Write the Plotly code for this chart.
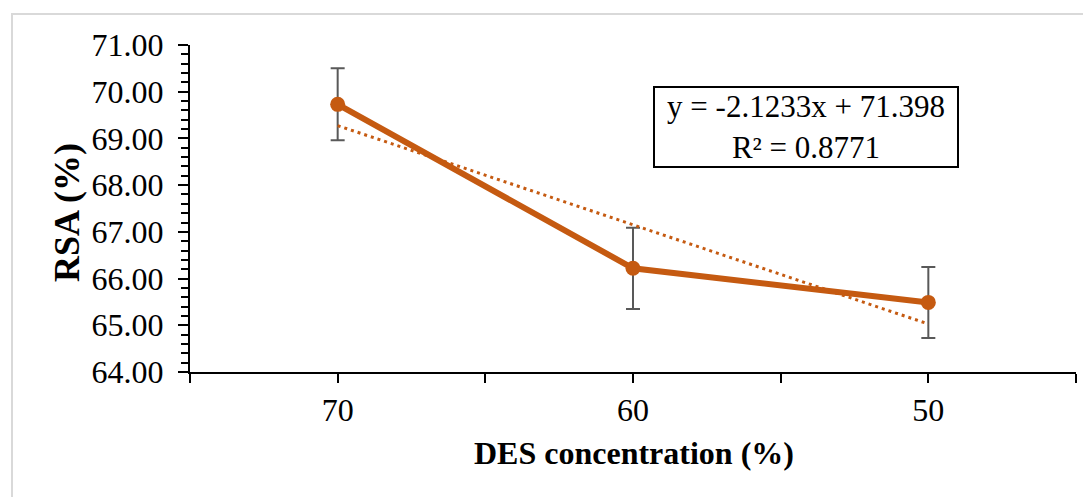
import plotly.graph_objects as go

categories = ["70", "60", "50"]
rsa = [69.73, 66.22, 65.49]
rsa_err = [0.77, 0.87, 0.76]
trend_slope = -2.1233
trend_intercept = 71.398
r_squared = 0.8771
y_ticks = [64, 65, 66, 67, 68, 69, 70, 71]

pos = list(range(1, len(categories) + 1))
trend_y = [trend_slope * p + trend_intercept for p in pos]

ORANGE = "#C55A11"
FONT = "Liberation Serif, Times New Roman, serif"

fig = go.Figure()
fig.add_trace(go.Scatter(
    x=pos, y=rsa, mode="lines+markers",
    line=dict(color=ORANGE, width=6),
    marker=dict(color=ORANGE, size=15),
    error_y=dict(type="data", array=rsa_err, visible=True,
                 color="#595959", thickness=2, width=7),
    showlegend=False,
))
fig.add_trace(go.Scatter(
    x=pos, y=trend_y, mode="lines",
    line=dict(color=ORANGE, width=3, dash="3px,4px"),
    showlegend=False,
))

tickvals = [0.5]
ticktext = [""]
for p, c in zip(pos, categories):
    tickvals += [p, p + 0.5]
    ticktext += [c, ""]

fig.update_layout(
    width=1091, height=497, autosize=False,
    margin=dict(l=182, r=23, t=37, b=133),
    plot_bgcolor="white", paper_bgcolor="white",
    font=dict(family=FONT, color="black", size=32),
    xaxis=dict(
        range=[0.5, len(categories) + 0.5], tickvals=tickvals, ticktext=ticktext,
        showline=True, linecolor="black", linewidth=2,
        ticks="outside", ticklen=9, tickwidth=2, tickcolor="black",
        showgrid=False, zeroline=False, ticklabelstandoff=0,
        tickfont=dict(size=32, family=FONT),
    ),
    yaxis=dict(
        range=[64, 71], tickvals=y_ticks, tickformat=".2f",
        showline=True, linecolor="black", linewidth=2,
        ticks="outside", ticklen=10, tickwidth=2, tickcolor="black",
        minor=dict(dtick=0.2, ticks="outside", ticklen=7, tickwidth=2, tickcolor="black", showgrid=False),
        showgrid=False, zeroline=False, ticklabelstandoff=8,
        tickfont=dict(size=32, family=FONT),
    ),
    annotations=[
        dict(text="<b>DES concentration (%)</b>", xref="paper", yref="paper",
             x=0.501, y=-0.248, showarrow=False, font=dict(size=32, family=FONT),
             xanchor="center", yanchor="middle"),
        dict(text="<b>RSA (%)</b>", xref="paper", yref="paper",
             x=-0.139, y=0.489, showarrow=False, textangle=-90,
             font=dict(size=36, family=FONT), xanchor="center", yanchor="middle"),
        dict(text=f"y = {trend_slope}x + {trend_intercept}<br>R² = {r_squared}",
             xref="paper", yref="paper", x=0.695, y=0.748, showarrow=False,
             font=dict(size=31, family=FONT), bordercolor="black", borderwidth=2,
             borderpad=2, width=298, height=74, align="center",
             bgcolor="white", xanchor="center", yanchor="middle"),
    ],
    shapes=[
        dict(type="rect", xref="paper", yref="paper",
             x0=-0.2009, y0=-0.6, x1=1.2, y1=1.0948,
             line=dict(color="#d9d9d9", width=2), layer="below"),
    ],
)

fig.write_html("out.html")
